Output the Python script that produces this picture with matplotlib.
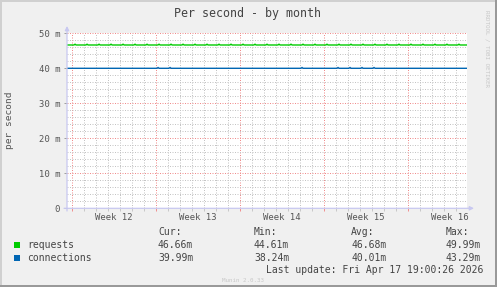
import numpy as np
import matplotlib
matplotlib.use("Agg")
import matplotlib.pyplot as plt
import matplotlib.transforms as mtransforms
from matplotlib.patches import Rectangle

W, H = 497, 287

# days counted from Monday 2026-03-16 (start of week 12)
week_starts = [0, 7, 14, 21, 28]
week_labels = ["Week 12", "Week 13", "Week 14", "Week 15", "Week 16"]
x_range = (-0.42, 32.92)

yticks = [0, 10, 20, 30, 40, 50]
ytick_labels = ["0", "10 m", "20 m", "30 m", "40 m", "50 m"]

# values in milli-per-second
requests_level = 46.66
requests_bump = 46.88
requests_bump_days = [0.25, 1.25, 2.25, 3.25, 4.25, 5.25, 6.25, 7.25, 8.25, 9.25,
                      10.25, 11.25, 12.25, 13.25, 14.25, 15.25, 16.25, 17.25,
                      18.25, 19.25, 20.25, 21.25, 22.25, 23.25, 24.25, 25.25,
                      26.25, 27.25, 28.25, 29.25, 30.25, 31.25, 32.25]
connections_level = 40.0
connections_bump = 40.22
connections_bump_days = [7.17, 8.17, 19.17, 22.17, 23.17, 24.17, 25.17]

legend_names = ["requests", "connections"]
colors = ["#00CC00", "#0066B3"]
cur = ["46.66m", "39.99m"]
mins = ["44.61m", "38.24m"]
avgs = ["46.68m", "40.01m"]
maxs = ["49.99m", "43.29m"]


def series(level, bump, days):
    xs, ys = [x_range[0]], [level]
    for d in days:
        xs += [d - 0.09, d, d + 0.09]
        ys += [level, bump, level]
    xs.append(x_range[1])
    ys.append(level)
    return xs, ys


def fx(x):
    return x / W


def fy(y):
    return 1 - y / H


plt.rcParams["font.family"] = "DejaVu Sans Mono"
fig = plt.figure(figsize=(W / 100, H / 100), dpi=100, facecolor="#F0F0F0")

left, right, top, bottom = 67, 467, 33.3, 208.3
ax = fig.add_axes([fx(left), fy(bottom), fx(right - left), (bottom - top) / H])
ax.set_facecolor("white")

for (lvl, b, days), c in zip([(requests_level, requests_bump, requests_bump_days),
                               (connections_level, connections_bump, connections_bump_days)], colors):
    xs, ys = series(lvl, b, days)
    ax.plot(xs, ys, color=c, lw=1.0, solid_joinstyle="miter", zorder=3)

ax.set_xlim(*x_range)
ax.set_ylim(0, 50)

dot = (0, (1, 1.5))
ax.set_xticks(week_starts)
ax.set_xticks(np.arange(0, 33, 1), minor=True)
ax.set_yticks(yticks)
ax.set_yticks(np.arange(0, 51, 2), minor=True)
ax.set_xticklabels([])
ax.set_yticklabels(ytick_labels)
ax.grid(which="minor", color="#C4C4C4", lw=0.72, ls=dot, zorder=1)
ax.grid(which="major", color="#F08C8C", lw=0.72, ls=dot, zorder=2)

ax.tick_params(axis="x", which="major", length=2, width=0.72, color="#F09090", direction="out")
ax.tick_params(axis="x", which="minor", length=2, width=0.72, color="#C8C8C8", direction="out")
ax.tick_params(axis="y", which="major", length=2, width=0.72, color="#A0A0A0",
               labelsize=6.4, labelcolor="#555555", pad=3)
ax.tick_params(axis="y", which="minor", length=0)

for s in ax.spines.values():
    s.set_visible(False)

# axes with arrows, rrdtool style
axis_col = "#C8C8F0"
ax.annotate("", xy=(fx(left), fy(26)), xytext=(fx(left), fy(211)),
            xycoords="figure fraction", textcoords="figure fraction",
            arrowprops=dict(arrowstyle="-|>", color=axis_col, lw=0.9, mutation_scale=6,
                            shrinkA=0, shrinkB=0))
ax.annotate("", xy=(fx(474), fy(bottom)), xytext=(fx(64), fy(bottom)),
            xycoords="figure fraction", textcoords="figure fraction",
            arrowprops=dict(arrowstyle="-|>", color=axis_col, lw=0.9, mutation_scale=6,
                            shrinkA=0, shrinkB=0))

label_tr = mtransforms.blended_transform_factory(ax.transData, fig.transFigure)
for ws, lab in zip(week_starts, week_labels):
    ax.text(ws + 3.5, fy(217), lab, transform=label_tr,
            ha="center", va="center", fontsize=6.4, color="#555555")

fig.text(fx(248), fy(14), "Per second - by month", ha="center", va="center",
         fontsize=8.4, color="#444444")
fig.text(fx(10), fy(120), "per second", rotation=90, ha="center", va="center",
         fontsize=6.8, color="#555555")
fig.text(fx(487), fy(48), "RRDTOOL / TOBI OETIKER", rotation=270, ha="center", va="center",
         fontsize=4.2, color="#C8C8C8")

fs = 7
tc = "#444444"
fig.text(fx(158), fy(232), "Cur:", ha="left", va="center", fontsize=fs, color=tc)
fig.text(fx(254), fy(232), "Min:", ha="left", va="center", fontsize=fs, color=tc)
fig.text(fx(351), fy(232), "Avg:", ha="left", va="center", fontsize=fs, color=tc)
fig.text(fx(446), fy(232), "Max:", ha="left", va="center", fontsize=fs, color=tc)
for i, (name, c) in enumerate(zip(legend_names, colors)):
    y = 245 + 13 * i
    fig.add_artist(Rectangle((fx(14), fy(y + 3)), 6 / W, 6 / H, transform=fig.transFigure,
                             facecolor=c, edgecolor="none"))
    fig.text(fx(27), fy(y), name, ha="left", va="center", fontsize=fs, color=tc)
    fig.text(fx(158), fy(y), cur[i], ha="left", va="center", fontsize=fs, color=tc)
    fig.text(fx(254), fy(y), mins[i], ha="left", va="center", fontsize=fs, color=tc)
    fig.text(fx(351), fy(y), avgs[i], ha="left", va="center", fontsize=fs, color=tc)
    fig.text(fx(446), fy(y), maxs[i], ha="left", va="center", fontsize=fs, color=tc)

fig.text(fx(483), fy(270), "Last update: Fri Apr 17 19:00:26 2026", ha="right", va="center",
         fontsize=fs, color=tc)
fig.text(fx(243), fy(280), "Munin 2.0.33", ha="center", va="center", fontsize=4.2,
         color="#C8C8C8")

# frame: light top/left, dark bottom/right
fig.add_artist(Rectangle((0, fy(2)), 1, 2 / H, transform=fig.transFigure, facecolor="#D0D0D0", edgecolor="none"))
fig.add_artist(Rectangle((0, 0), 2 / W, 1, transform=fig.transFigure, facecolor="#D0D0D0", edgecolor="none"))
fig.add_artist(Rectangle((0, 0), 1, 2 / H, transform=fig.transFigure, facecolor="#999999", edgecolor="none"))
fig.add_artist(Rectangle((fx(W - 2), 0), 2 / W, 1, transform=fig.transFigure, facecolor="#999999", edgecolor="none"))

fig.savefig("out.png", dpi=100, facecolor=fig.get_facecolor())
